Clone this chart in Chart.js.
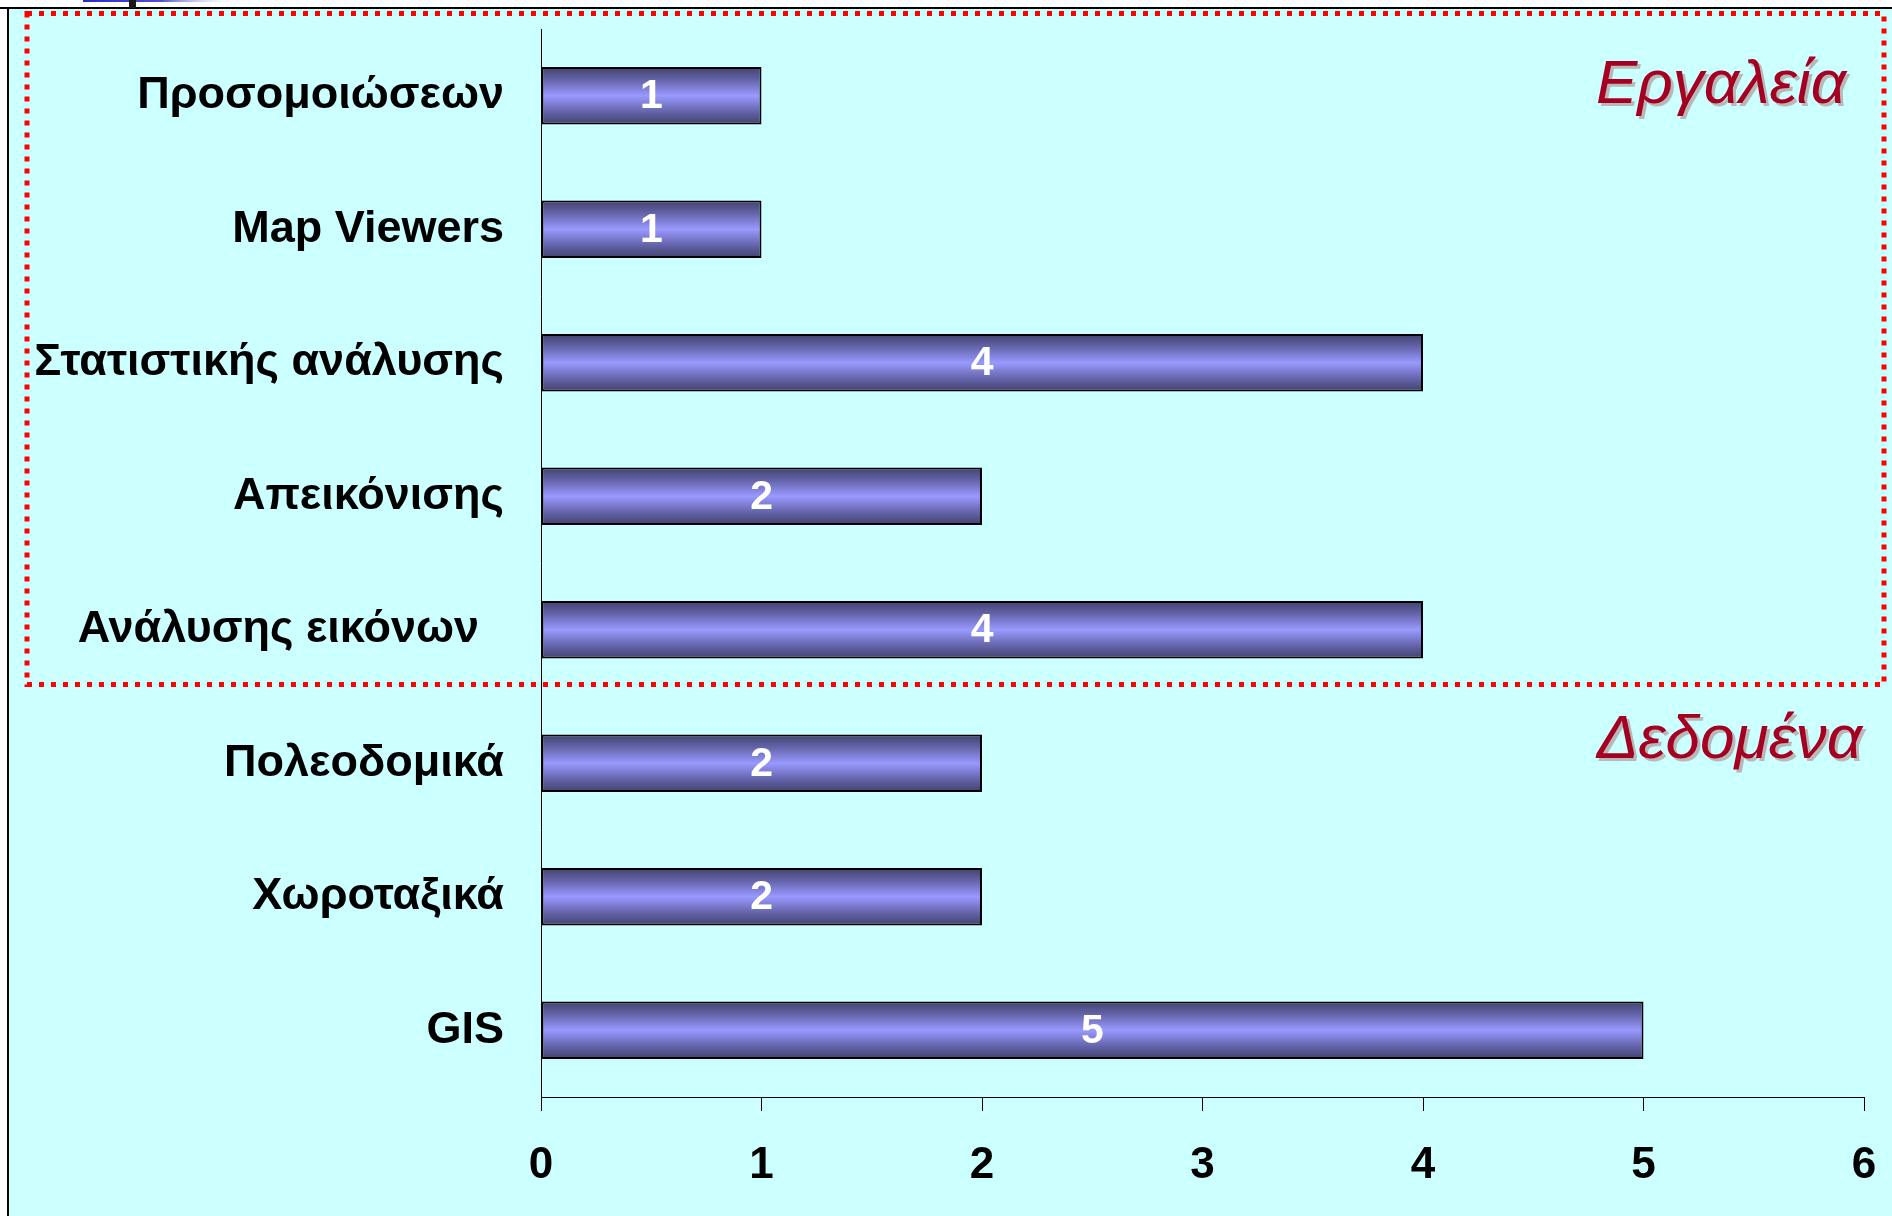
<!DOCTYPE html>
<html>
<head>
<meta charset="utf-8">
<script src="https://cdn.jsdelivr.net/npm/chart.js@4.4.1/dist/chart.umd.min.js"></script>
<style>
  html, body { margin: 0; padding: 0; background: #fff; }
  #wrap { width: 1892px; height: 1216px; }
</style>
</head>
<body>
<div id="wrap"><canvas id="c" width="1892" height="1216"></canvas></div>
<script>
'use strict';

// Chart data
const categories = [
  'Προσομοιώσεων',
  'Map Viewers',
  'Στατιστικής ανάλυσης',
  'Απεικόνισης',
  'Ανάλυσης εικόνων  ',
  'Πολεοδομικά',
  'Χωροταξικά',
  'GIS'
];
const counts = [1, 1, 4, 2, 4, 2, 2, 5];
const xTicks = [0, 1, 2, 3, 4, 5, 6];
const groupLabels = ['Εργαλεία', 'Δεδομένα'];

const FONT = "'Liberation Sans', Arial, sans-serif";
const BAR_PCT = 0.43;

// vertical shading of each bar, light in the middle
const barFill = (ctx) => {
  const chart = ctx.chart;
  const area = chart.chartArea;
  if (!area || ctx.dataIndex === undefined) return '#9999ff';
  const y = chart.scales.y.getPixelForValue(ctx.dataIndex);
  const h = (area.bottom - area.top) / categories.length * BAR_PCT;
  const g = chart.ctx.createLinearGradient(0, y - h / 2, 0, y + h / 2);
  g.addColorStop(0, '#42426e');
  g.addColorStop(0.2, '#6060a4');
  g.addColorStop(0.5, '#9999ff');
  g.addColorStop(0.8, '#6060a4');
  g.addColorStop(1, '#42426e');
  return g;
};

// page background, frame and the leftover bit of the slide title
const backdrop = {
  id: 'backdrop',
  beforeDraw(chart) {
    const { ctx, width, height } = chart;
    ctx.save();
    ctx.fillStyle = '#ffffff';
    ctx.fillRect(0, 0, width, height);
    ctx.fillStyle = '#ccffff';
    ctx.fillRect(8, 8, width - 8, height - 8);
    ctx.strokeStyle = '#000';
    ctx.lineWidth = 2;
    ctx.beginPath();
    ctx.moveTo(0, 8); ctx.lineTo(width, 8);
    ctx.moveTo(8, 8); ctx.lineTo(8, height);
    ctx.stroke();
    const tg = ctx.createLinearGradient(83, 0, 240, 0);
    tg.addColorStop(0, '#2a2ac8');
    tg.addColorStop(0.5, '#5050d0');
    tg.addColorStop(1, 'rgba(255,255,255,0)');
    ctx.fillStyle = tg;
    ctx.fillRect(83, 0, 157, 2);
    ctx.fillStyle = '#1a1a1a';
    ctx.fillRect(129, 0, 7, 8);
    ctx.restore();
  }
};

// value labels, dotted group box and group captions
const overlay = {
  id: 'overlay',
  afterDatasetsDraw(chart) {
    const { ctx, chartArea } = chart;
    const yS = chart.scales.y;
    const step = (chartArea.bottom - chartArea.top) / categories.length;
    ctx.save();

    // values inside bars
    ctx.font = 'bold 41px ' + FONT;
    ctx.fillStyle = '#ffffff';
    ctx.textAlign = 'center';
    ctx.textBaseline = 'middle';
    chart.getDatasetMeta(0).data.forEach((bar, i) => {
      ctx.fillText(String(counts[i]), (bar.x + bar.base) / 2, bar.y + 1);
    });

    // red dotted box round the first five categories
    const boxBottom = yS.getPixelForValue(4) + step * 0.41;
    ctx.strokeStyle = '#ff0000';
    ctx.lineWidth = 5;
    ctx.setLineDash([5, 7]);
    ctx.strokeRect(27, 13.5, 1884 - 27, boxBottom - 13.5);
    ctx.setLineDash([]);

    // group captions with a soft shadow
    ctx.font = 'italic 62px ' + FONT;
    ctx.textAlign = 'right';
    ctx.textBaseline = 'alphabetic';
    const caps = [
      { text: groupLabels[0], x: 1846, y: 103 },
      { text: groupLabels[1], x: 1862, y: 758 }
    ];
    caps.forEach(c => {
      ctx.fillStyle = '#b8b8b8';
      ctx.fillText(c.text, c.x + 3, c.y + 3);
      ctx.fillStyle = '#a50021';
      ctx.fillText(c.text, c.x, c.y);
    });
    ctx.restore();
  }
};

const noPad = s => { s.paddingTop = 0; s.paddingBottom = 0; s.paddingLeft = 0; s.paddingRight = 0; };

new Chart(document.getElementById('c'), {
  type: 'bar',
  data: {
    labels: categories,
    datasets: [{
      data: counts,
      backgroundColor: barFill,
      borderColor: '#000000',
      borderWidth: 2,
      borderSkipped: false,
      barPercentage: BAR_PCT,
      categoryPercentage: 1.0
    }]
  },
  options: {
    indexAxis: 'y',
    responsive: false,
    animation: false,
    events: [],
    layout: { padding: { top: 29, right: 28, left: 0, bottom: 0 } },
    plugins: {
      legend: { display: false },
      tooltip: { enabled: false },
      title: { display: false }
    },
    scales: {
      x: {
        type: 'linear',
        min: xTicks[0],
        max: xTicks[xTicks.length - 1],
        afterBuildTicks: s => { s.ticks = xTicks.map(v => ({ value: v })); },
        afterFit: s => { s.height = 119; noPad(s); },
        grid: { drawOnChartArea: false, drawTicks: true, tickLength: 14, color: '#000', lineWidth: 1 },
        border: { display: true, color: '#000', width: 1 },
        ticks: {
          color: '#000',
          padding: 28,
          font: { family: FONT, size: 44, weight: 'bold' }
        }
      },
      y: {
        afterFit: s => { s.width = 541; noPad(s); },
        grid: { display: false, drawTicks: false },
        border: { display: true, color: '#000', width: 1 },
        ticks: {
          color: '#000',
          padding: 37,
          autoSkip: false,
          font: { family: FONT, size: 45, weight: 'bold' }
        }
      }
    }
  },
  plugins: [backdrop, overlay]
});
</script>
</body>
</html>
